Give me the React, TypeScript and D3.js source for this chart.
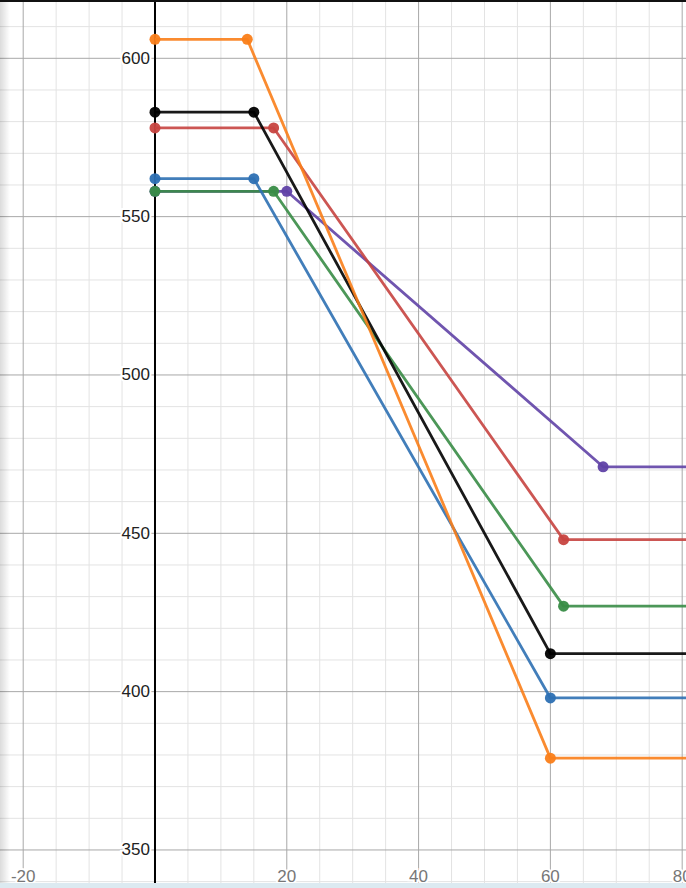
import React from "react";
import * as d3 from "d3";

const W = 686;
const H = 888;

// Series breakpoints (x, y); each line extends flat to the right edge.
const orangeX = [0, 14, 60];
const orangeY = [606, 606, 379];
const blackX = [0, 15, 60];
const blackY = [583, 583, 412];
const redX = [0, 18, 62];
const redY = [578, 578, 448];
const blueX = [0, 15, 60];
const blueY = [562, 562, 398];
const greenX = [0, 18, 62];
const greenY = [558, 558, 427];
const purpleX = [0, 20, 68];
const purpleY = [558, 558, 471];

const xTicks = [-20, 20, 40, 60, 80];
const yTicks = [350, 400, 450, 500, 550, 600];
const xDomain = [-23.52, 80.58];
const yDomain = [618.41, 337.99];
const extendX = 120;

const series = [
  { name: "purple", xs: purpleX, ys: purpleY, color: "#6042a6" },
  { name: "green", xs: greenX, ys: greenY, color: "#388c46" },
  { name: "blue", xs: blueX, ys: blueY, color: "#2d70b3" },
  { name: "red", xs: redX, ys: redY, color: "#c74440" },
  { name: "black", xs: blackX, ys: blackY, color: "#000000" },
  { name: "orange", xs: orangeX, ys: orangeY, color: "#fa7e19" },
];

export default function App() {
  const x = d3.scaleLinear().domain(xDomain).range([0, W]);
  const y = d3.scaleLinear().domain(yDomain).range([0, H]);

  const minorX = d3.range(-20, 85, 5).filter((v) => v % 20 !== 0);
  const majorX = d3.range(-20, 85, 20).filter((v) => v !== 0);
  const minorY = d3.range(340, 620, 10).filter((v) => v % 50 !== 0);
  const majorY = d3.range(350, 620, 50);

  const line = d3
    .line<[number, number]>()
    .x((d) => x(d[0]))
    .y((d) => y(d[1]));

  const font = "'Liberation Sans', Arial, Helvetica, sans-serif";

  return (
    <svg
      width={W}
      height={H}
      style={{ position: "fixed", left: 0, top: 0, background: "#fff" }}
    >
      <defs>
        <linearGradient id="leftShade" x1="0" x2="1" y1="0" y2="0">
          <stop offset="0" stopColor="#000" stopOpacity={0.14} />
          <stop offset="1" stopColor="#000" stopOpacity={0} />
        </linearGradient>
      </defs>
      <rect x={0} y={0} width={W} height={H} fill="#fff" />
      {minorX.map((v) => (
        <line key={"mx" + v} x1={x(v)} x2={x(v)} y1={0} y2={H} stroke="#e3e3e3" strokeWidth={1} />
      ))}
      {minorY.map((v) => (
        <line key={"my" + v} x1={0} x2={W} y1={y(v)} y2={y(v)} stroke="#e3e3e3" strokeWidth={1} />
      ))}
      {majorX.map((v) => (
        <line key={"Mx" + v} x1={x(v)} x2={x(v)} y1={0} y2={H} stroke="#a8a8a8" strokeWidth={1} />
      ))}
      {majorY.map((v) => (
        <line key={"My" + v} x1={0} x2={W} y1={y(v)} y2={y(v)} stroke="#a8a8a8" strokeWidth={1} />
      ))}
      {/* y axis */}
      <line x1={x(0)} x2={x(0)} y1={0} y2={H} stroke="#000" strokeWidth={2} />

      {/* y labels */}
      {yTicks.map((v) => (
        <text
          key={"yl" + v}
          x={x(0) - 5}
          y={y(v)}
          textAnchor="end"
          dominantBaseline="central"
          fontFamily={font}
          fontSize={17}
          fill="#222"
          stroke="#fff"
          strokeWidth={4}
          paintOrder="stroke"
        >
          {v}
        </text>
      ))}
      {/* x labels pinned to bottom */}
      {xTicks.map((v) => (
        <text
          key={"xl" + v}
          x={x(v)}
          y={H - 6}
          textAnchor="middle"
          fontFamily={font}
          fontSize={17}
          fill="#777"
          stroke="#fff"
          strokeWidth={4}
          paintOrder="stroke"
        >
          {v}
        </text>
      ))}

      {/* series */}
      {series.map((s) => {
        const pts: [number, number][] = s.xs.map((xv, i) => [xv, s.ys[i]]);
        const full: [number, number][] = [...pts, [extendX, s.ys[s.ys.length - 1]]];
        return (
          <g key={s.name}>
            <path
              d={line(full) || ""}
              fill="none"
              stroke={s.color}
              strokeWidth={2.8}
              strokeOpacity={0.9}
              strokeLinejoin="round"
            />
            {pts.map((p, i) => (
              <circle key={i} cx={x(p[0])} cy={y(p[1])} r={5.5} fill={s.color} fillOpacity={0.95} />
            ))}
          </g>
        );
      })}

      {/* frame decorations */}
      <rect x={0} y={0} width={10} height={H} fill="url(#leftShade)" />
      <rect x={0} y={0} width={W} height={2} fill="#111" />
      <rect x={0} y={H - 5} width={W} height={5} fill="#dceaf1" />
    </svg>
  );
}
